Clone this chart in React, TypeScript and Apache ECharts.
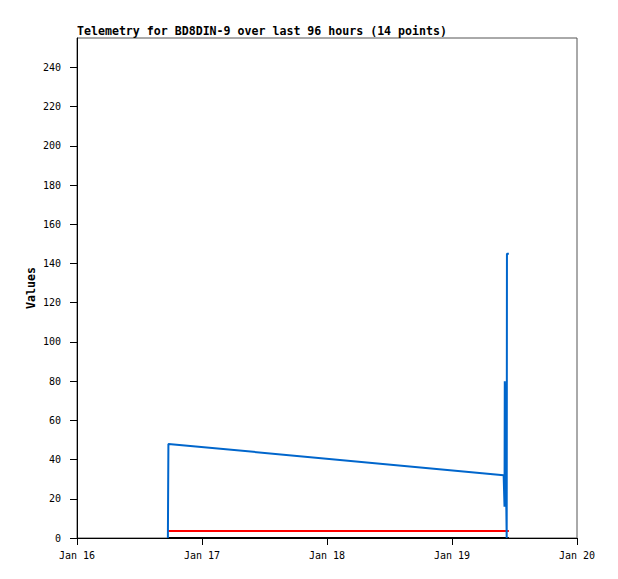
import React, { useEffect, useRef } from "react";
import * as echarts from "echarts";

const TITLE = "Telemetry for BD8DIN-9 over last 96 hours (14 points)";
const Y_NAME = "Values";
const X_START = "2024-01-16T00:00:00Z";
const X_END = "2024-01-20T00:00:00Z";
const MONTHS = ["Jan", "Feb", "Mar", "Apr", "May", "Jun", "Jul", "Aug", "Sep", "Oct", "Nov", "Dec"];
const Y_TICKS = [0, 20, 40, 60, 80, 100, 120, 140, 160, 180, 200, 220, 240];
const Y_MAX = 255;

const times = [
  "2024-01-16T17:27:00Z",
  "2024-01-16T17:33:00Z",
  "2024-01-19T09:55:00Z",
  "2024-01-19T10:05:00Z",
  "2024-01-19T10:08:00Z",
  "2024-01-19T10:12:00Z",
  "2024-01-19T10:30:00Z",
  "2024-01-19T10:33:00Z",
  "2024-01-19T10:55:00Z",
];
const blueValues = [0, 48, 32, 16, 80, 64, 0, 145, 145];
const redValues = [3.6, 3.6, 3.6, 3.6, 3.6, 3.6, 3.6, 3.6, 3.6];
const blackValues = [0, 0, 0, 0, 0, 0, 0, 0, 0];

const DAY = 86400000;
const MONO = "'DejaVu Sans Mono', monospace";

function pairs(vals: number[]) {
  return times.map((t, i) => [Date.parse(t), vals[i]]);
}

export default function App() {
  const ref = useRef<HTMLDivElement>(null);
  useEffect(() => {
    if (!ref.current) return;
    const chart = echarts.init(ref.current, null, { renderer: "svg" });
    chart.setOption({
      animation: false,
      backgroundColor: "#fff",
      title: {
        text: TITLE,
        left: 72,
        top: 20,
        textStyle: { fontFamily: MONO, fontSize: 11.6, fontWeight: "bold", color: "#000" },
      },
      grid: { left: 77, right: 41, top: 38, bottom: 41, show: true, borderColor: "#555", borderWidth: 1 },
      xAxis: {
        type: "value",
        min: Date.parse(X_START),
        max: Date.parse(X_END),
        interval: DAY,
        splitLine: { show: false },
        axisLine: { lineStyle: { color: "#000", width: 1 } },
        axisTick: { length: 7, lineStyle: { color: "#000" } },
        axisLabel: {
          margin: 12,
          fontFamily: MONO,
          fontSize: 10,
          color: "#000",
          formatter: (v: number) => {
            const d = new Date(v);
            return MONTHS[d.getUTCMonth()] + " " + d.getUTCDate();
          },
        },
      },
      yAxis: {
        type: "value",
        min: 0,
        max: Y_MAX,
        name: Y_NAME,
        nameLocation: "middle",
        nameGap: 40,
        nameMoveOverlap: false,
        nameRotate: 90,
        nameTextStyle: { fontFamily: MONO, fontSize: 11.6, fontWeight: "bold", color: "#000" },
        splitLine: { show: false },
        axisLine: { show: true, lineStyle: { color: "#000", width: 1 } },
        axisTick: { show: true, length: 7, customValues: Y_TICKS, lineStyle: { color: "#000" } },
        axisLabel: {
          margin: 16,
          customValues: Y_TICKS,
          fontFamily: MONO,
          fontSize: 10,
          color: "#000",
        },
      },
      series: [
        {
          type: "line",
          data: pairs(blackValues),
          showSymbol: false,
          lineStyle: { color: "#000", width: 2 },
        },
        {
          type: "line",
          data: pairs(redValues),
          showSymbol: false,
          lineStyle: { color: "#ff0000", width: 2 },
        },
        {
          type: "line",
          data: pairs(blueValues),
          showSymbol: false,
          lineStyle: { color: "#0066cc", width: 2 },
        },
      ],
    });
    return () => chart.dispose();
  }, []);
  return <div ref={ref} style={{ width: 618, height: 579, position: "absolute", left: 0, top: 0 }} />;
}
